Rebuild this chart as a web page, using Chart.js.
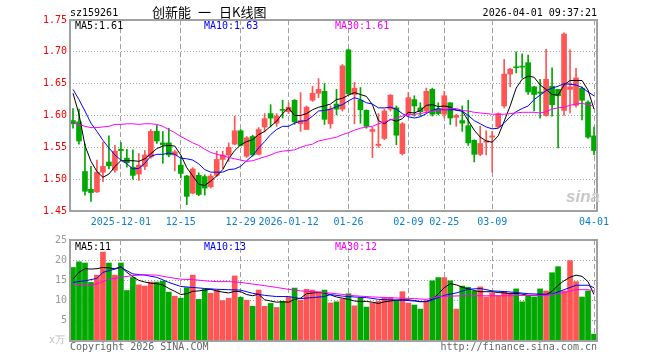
<!DOCTYPE html>
<html>
<head>
<meta charset="utf-8">
<script src="https://cdn.jsdelivr.net/npm/chart.js@4.4.1/dist/chart.umd.min.js"></script>
<style>
  body { margin: 0; background: #fff; width: 660px; height: 360px; position: relative; overflow: hidden;
         font-family: 'DejaVu Sans Mono', monospace; font-size: 10px; }
  canvas { position: absolute; left: 0; }
  .t { position: absolute; white-space: pre; line-height: 12px; }
  .cn { font-family: 'Noto Sans CJK SC', sans-serif; font-size: 13px; line-height: 15px; top: 4px; color: #000; }
</style>
</head>
<body>
<canvas id="kline" width="660" height="232" style="top:0"></canvas>
<canvas id="vol" width="660" height="130" style="top:230px"></canvas>

<div class="t" style="left:70px;top:7px;color:#000">sz159261</div>
<div class="t cn" style="left:152px">创新能</div>
<div class="t cn" style="left:198px">一</div>
<div class="t cn" style="left:219px">日K线图</div>
<div class="t" style="right:63px;top:7px;color:#000">2026-04-01 09:37:21</div>

<div class="t" style="left:75px;top:20px;color:#000">MA5:1.61</div>
<div class="t" style="left:204px;top:20px;color:#0000ff">MA10:1.63</div>
<div class="t" style="left:335px;top:20px;color:#ff00ff">MA30:1.61</div>

<div class="t" style="left:75px;top:241px;color:#000">MA5:11</div>
<div class="t" style="left:204px;top:241px;color:#0000ff">MA10:13</div>
<div class="t" style="left:335px;top:241px;color:#ff00ff">MA30:12</div>

<div class="t" style="left:49px;top:334px;color:#bbb">x万</div>
<div class="t" style="left:70px;top:341px;color:#666">Copyright 2026 SINA.COM</div>
<div class="t" style="right:63px;top:341px;color:#666">http://finance.sina.com.cn</div>
<div class="t" style="left:566px;top:188px;color:#c8c8c8;font-family:'Liberation Sans',sans-serif;font-weight:bold;font-style:italic;font-size:17px;line-height:18px">sina</div>

<script>
// candles, oldest first (2025-11-19 .. 2026-04-01)
const opens = [1.592,1.590,1.512,1.484,1.480,1.511,1.527,1.514,1.547,1.533,
  1.519,1.508,1.520,1.535,1.575,1.557,1.557,1.538,1.522,1.505,
  1.478,1.506,1.504,1.488,1.506,1.531,1.538,1.555,1.576,1.536,
  1.567,1.539,1.582,1.603,1.588,1.609,1.606,1.624,1.587,1.578,
  1.624,1.635,1.638,1.587,1.618,1.610,1.703,1.633,1.624,1.608,
  1.575,1.553,1.564,1.610,1.612,1.540,1.602,1.625,1.612,1.607,
  1.641,1.610,1.602,1.620,1.597,1.592,1.584,1.561,1.539,1.558,
  1.566,1.582,1.615,1.665,1.676,1.677,1.683,1.645,1.637,1.600,
  1.646,1.641,1.608,1.641,1.616,1.643,1.621,1.568];
const highs = [1.611,1.610,1.555,1.520,1.530,1.558,1.568,1.553,1.558,1.547,
  1.546,1.540,1.545,1.578,1.585,1.575,1.580,1.545,1.535,1.506,
  1.518,1.510,1.507,1.508,1.544,1.544,1.557,1.599,1.578,1.567,
  1.569,1.581,1.603,1.617,1.603,1.624,1.620,1.625,1.636,1.615,
  1.646,1.658,1.650,1.615,1.641,1.680,1.704,1.652,1.644,1.609,
  1.582,1.603,1.610,1.633,1.615,1.589,1.636,1.631,1.620,1.643,
  1.643,1.620,1.638,1.620,1.602,1.615,1.624,1.562,1.583,1.576,
  1.575,1.604,1.688,1.674,1.700,1.697,1.695,1.646,1.657,1.704,
  1.675,1.641,1.730,1.703,1.674,1.645,1.623,1.582];
const lows = [1.580,1.555,1.475,1.465,1.479,1.496,1.516,1.511,1.530,1.519,
  1.500,1.498,1.515,1.533,1.556,1.525,1.535,1.513,1.502,1.460,
  1.477,1.474,1.475,1.486,1.504,1.517,1.528,1.554,1.552,1.534,
  1.536,1.538,1.574,1.582,1.583,1.596,1.603,1.586,1.575,1.578,
  1.622,1.628,1.586,1.580,1.601,1.607,1.633,1.587,1.588,1.580,
  1.534,1.550,1.562,1.607,1.554,1.538,1.599,1.599,1.599,1.604,
  1.599,1.601,1.596,1.586,1.583,1.575,1.553,1.527,1.537,1.538,
  1.511,1.581,1.612,1.645,1.667,1.659,1.633,1.607,1.596,1.599,
  1.599,1.549,1.600,1.604,1.613,1.593,1.564,1.538];
const closes = [1.587,1.560,1.481,1.479,1.511,1.520,1.521,1.544,1.545,1.526,
  1.506,1.522,1.538,1.575,1.560,1.554,1.538,1.543,1.509,1.473,
  1.516,1.476,1.486,1.505,1.531,1.538,1.550,1.576,1.553,1.565,
  1.538,1.578,1.595,1.596,1.599,1.608,1.613,1.590,1.592,1.613,
  1.635,1.641,1.594,1.610,1.610,1.678,1.634,1.643,1.609,1.583,
  1.578,1.555,1.607,1.632,1.569,1.587,1.628,1.615,1.606,1.638,
  1.602,1.603,1.631,1.596,1.600,1.588,1.557,1.539,1.556,1.560,
  1.568,1.603,1.665,1.673,1.675,1.676,1.637,1.633,1.635,1.657,
  1.617,1.631,1.728,1.645,1.659,1.624,1.566,1.545];

// volume, 万手
const volumes = [18.2,19.6,19.3,14.5,16.3,22.0,19.3,16.3,19.3,12.5,
  15.7,13.9,13.6,14.6,14.6,14.8,12.1,11.1,10.6,13.2,
  16.3,10.3,12.8,11.8,12.6,10.0,10.6,16.1,10.8,10.1,
  8.6,12.6,8.6,9.3,8.3,9.8,10.8,13.1,10.1,12.8,
  12.6,12.2,12.6,9.4,9.7,10.4,11.7,8.7,10.8,8.4,
  9.4,9.8,10.8,10.8,10.0,12.2,9.4,8.9,7.9,10.0,
  14.9,15.7,15.7,14.9,7.9,13.6,13.3,12.3,13.4,10.9,
  11.9,11.2,12.3,11.8,12.9,9.7,11.25,10.9,12.9,12.4,
  16.9,18.4,12.4,19.9,14.7,10.9,12.4,1.7];

// moving-average lines
const ma5 = [1.635,1.602,1.553,1.528,1.512,1.503,1.508,1.520,1.529,1.529,
  1.529,1.528,1.532,1.540,1.548,1.552,1.553,1.552,1.538,1.518,
  1.505,1.492,1.490,1.497,1.505,1.515,1.532,1.545,1.554,1.559,
  1.562,1.570,1.575,1.583,1.591,1.603,1.612,1.600,1.600,1.603,
  1.609,1.613,1.615,1.618,1.625,1.627,1.632,1.636,1.633,1.630,
  1.617,1.592,1.587,1.594,1.591,1.595,1.605,1.604,1.608,1.616,
  1.617,1.614,1.615,1.613,1.608,1.607,1.592,1.577,1.566,1.560,
  1.558,1.568,1.591,1.615,1.643,1.657,1.662,1.660,1.648,1.641,
  1.633,1.632,1.648,1.655,1.655,1.655,1.640,1.610];
const ma10 = [1.641,1.625,1.607,1.588,1.575,1.561,1.549,1.538,1.530,1.524,
  1.516,1.517,1.525,1.536,1.539,1.539,1.541,1.539,1.533,1.532,
  1.530,1.524,1.515,1.511,1.511,1.511,1.515,1.516,1.520,1.529,
  1.537,1.549,1.559,1.570,1.578,1.583,1.583,1.588,1.591,1.592,
  1.599,1.607,1.608,1.610,1.614,1.617,1.623,1.628,1.625,1.620,
  1.618,1.612,1.612,1.613,1.610,1.603,1.598,1.596,1.598,1.603,
  1.608,1.611,1.609,1.609,1.609,1.607,1.600,1.592,1.587,1.582,
  1.579,1.580,1.588,1.598,1.606,1.611,1.615,1.625,1.632,1.639,
  1.643,1.646,1.650,1.649,1.648,1.644,1.637,1.631];
const ma30 = [1.588,1.586,1.583,1.581,1.581,1.582,1.583,1.586,1.586,1.587,
  1.587,1.586,1.587,1.587,1.586,1.583,1.578,1.573,1.567,1.562,
  1.557,1.553,1.547,1.542,1.539,1.537,1.534,1.532,1.530,1.528,
  1.529,1.532,1.535,1.538,1.542,1.544,1.545,1.546,1.550,1.553,
  1.555,1.560,1.562,1.564,1.566,1.570,1.573,1.577,1.580,1.582,
  1.583,1.587,1.590,1.593,1.596,1.599,1.601,1.602,1.603,1.605,
  1.607,1.608,1.609,1.611,1.611,1.608,1.607,1.605,1.604,1.603,
  1.602,1.602,1.602,1.603,1.604,1.605,1.605,1.605,1.604,1.606,
  1.610,1.612,1.613,1.616,1.618,1.619,1.617,1.615];

const volMa5 = [15.3,17.0,17.9,17.8,17.9,18.2,18.1,17.9,18.4,17.0,
  15.9,15.0,14.6,14.3,14.2,13.9,13.0,12.3,11.5,11.7,
  12.3,12.4,12.6,12.8,12.4,12.1,11.9,12.3,12.2,11.5,
  11.2,11.6,10.2,9.9,9.6,9.7,9.6,10.3,10.6,11.7,
  11.9,12.0,11.9,11.4,10.9,10.6,10.3,9.9,9.8,9.8,
  9.6,9.3,9.7,9.9,10.1,10.2,10.2,10.0,9.7,9.8,
  10.3,11.7,13.2,14.2,13.9,13.3,12.9,12.5,12.2,12.2,
  12.2,12.0,11.9,11.7,11.8,11.6,11.3,11.3,11.4,11.5,
  12.3,13.8,14.9,15.8,16.3,16.0,14.7,11.5];
const volMa10Idx = [0,2,4,5,7,8,10,12,14,16,18,20,22,24,26,28,30,32,34,36,38,40,42,43,45,
  47,49,51,53,55,57,59,60,62,64,66,68,70,72,74,76,78,80,82,84,86,87];
const volMa10Val = [14.5,14.9,15.5,17.0,17.8,18.2,16.6,16.3,15.75,14.5,13.5,13.25,13.0,12.8,12.7,
  12.6,11.8,11.3,11.0,11.0,10.5,10.75,11.0,11.5,11.1,10.9,10.75,10.3,10.2,10.1,9.9,9.7,10.2,
  11.3,11.9,12.8,13.0,12.4,12.25,12.0,11.7,11.6,11.6,12.7,13.8,13.8,13.2];
const volMa30Idx = [0,2,4,6,8,10,12,14,16,18,20,22,24,26,28,30,32,34,36,38,40,42,44,47,50,
  53,57,59,61,65,69,72,76,79,82,84,86,87];
const volMa30Val = [14.1,13.7,14.1,15.3,15.75,16.2,16.4,16.3,15.75,15.3,15.2,14.9,14.7,14.7,14.5,
  14.1,13.7,13.25,12.8,12.4,12.2,12.0,11.7,11.2,10.9,10.7,10.5,10.3,11.0,11.2,11.2,11.2,11.3,
  11.3,12.0,12.7,12.7,12.4];

const tickIdx = [8, 18, 28, 36, 46, 56, 62, 70, 87];
const tickText = ['2025-12-01', '12-15', '12-29', '2026-01-12', '01-26', '02-09', '02-25', '03-09', '04-01'];

const UP = '#ff5555';
const DOWN = '#00a800';
const GRID = '#a0a0a0';
const MONO = 'DejaVu Sans Mono';

const labels = opens.map((_, i) => i);
const candleColors = opens.map((o, i) => (closes[i] >= o ? UP : DOWN));

function sparse(idx, val) {
  const out = new Array(labels.length).fill(null);
  idx.forEach((k, j) => { out[k] = val[j]; });
  return out;
}

// frame round the plot area
const framePlugin = {
  id: 'frame',
  afterDraw(chart) {
    const { ctx, chartArea: a } = chart;
    ctx.save();
    ctx.strokeStyle = '#a0a0a0';
    ctx.lineWidth = 2;
    ctx.strokeRect(a.left, a.top, a.right - a.left, a.bottom - a.top);
    ctx.restore();
  }
};

function xScale(showLabels, height) {
  return {
    type: 'category',
    offset: true,
    grid: {
      offset: false,
      drawTicks: false,
      color: c => (tickIdx.includes(c.index) ? GRID : 'rgba(0,0,0,0)'),
      lineWidth: 1
    },
    border: { display: false, dash: [5, 3] },
    ticks: {
      display: showLabels,
      autoSkip: false,
      maxRotation: 0,
      padding: 5,
      color: '#0c80d0',
      font: { family: MONO, size: 10 },
      callback: (v, i) => {
        const k = tickIdx.indexOf(i);
        return k >= 0 ? tickText[k] : '';
      }
    },
    afterFit: s => { s.height = height; }
  };
}

function maLine(data, color) {
  return {
    type: 'line', data, borderColor: color, borderWidth: 1, pointRadius: 0,
    tension: 0, spanGaps: true, order: 0
  };
}

new Chart(document.getElementById('kline'), {
  type: 'bar',
  data: {
    labels,
    datasets: [
      maLine(ma30, '#ff00ff'),
      maLine(ma10, '#0000ff'),
      maLine(ma5, '#000000'),
      {
        data: opens.map((o, i) => [Math.min(o, closes[i]), Math.max(o, closes[i])]),
        backgroundColor: candleColors, barThickness: 5, minBarLength: 1,
        grouped: false, order: 1
      },
      {
        data: lows.map((l, i) => [l, highs[i]]),
        backgroundColor: candleColors, barThickness: 1,
        grouped: false, order: 2
      }
    ]
  },
  options: {
    responsive: false,
    animation: false,
    events: [],
    layout: { padding: { left: 0, right: 63, top: 20, bottom: 0 } },
    plugins: { legend: { display: false }, tooltip: { enabled: false } },
    scales: {
      x: xScale(true, 21),
      y: {
        min: 1.45, max: 1.75,
        grid: { color: GRID, drawTicks: false },
        border: { display: false, dash: [1, 2] },
        ticks: {
          stepSize: 0.05, padding: 3, color: '#ff0000',
          font: { family: MONO, size: 10 },
          callback: v => v.toFixed(2)
        },
        afterFit: s => { s.width = 70; }
      }
    }
  },
  plugins: [framePlugin]
});

new Chart(document.getElementById('vol'), {
  type: 'bar',
  data: {
    labels,
    datasets: [
      maLine(sparse(volMa30Idx, volMa30Val), '#ff00ff'),
      maLine(sparse(volMa10Idx, volMa10Val), '#0000ff'),
      maLine(volMa5, '#000000'),
      {
        data: volumes, backgroundColor: candleColors, barThickness: 5,
        grouped: false, order: 1
      }
    ]
  },
  options: {
    responsive: false,
    animation: false,
    events: [],
    layout: { padding: { left: 0, right: 63, top: 10, bottom: 0 } },
    plugins: { legend: { display: false }, tooltip: { enabled: false } },
    scales: {
      x: xScale(false, 19),
      y: {
        min: 0, max: 25,
        grid: { color: c => (c.tick && c.tick.value === 0 ? 'rgba(0,0,0,0)' : GRID), drawTicks: false },
        border: { display: false, dash: [1, 2] },
        ticks: {
          stepSize: 5, padding: 3, color: '#999',
          font: { family: MONO, size: 10 },
          callback: v => (v === 0 ? '' : v)
        },
        afterFit: s => { s.width = 70; }
      }
    }
  },
  plugins: [framePlugin]
});
</script>
</body>
</html>
